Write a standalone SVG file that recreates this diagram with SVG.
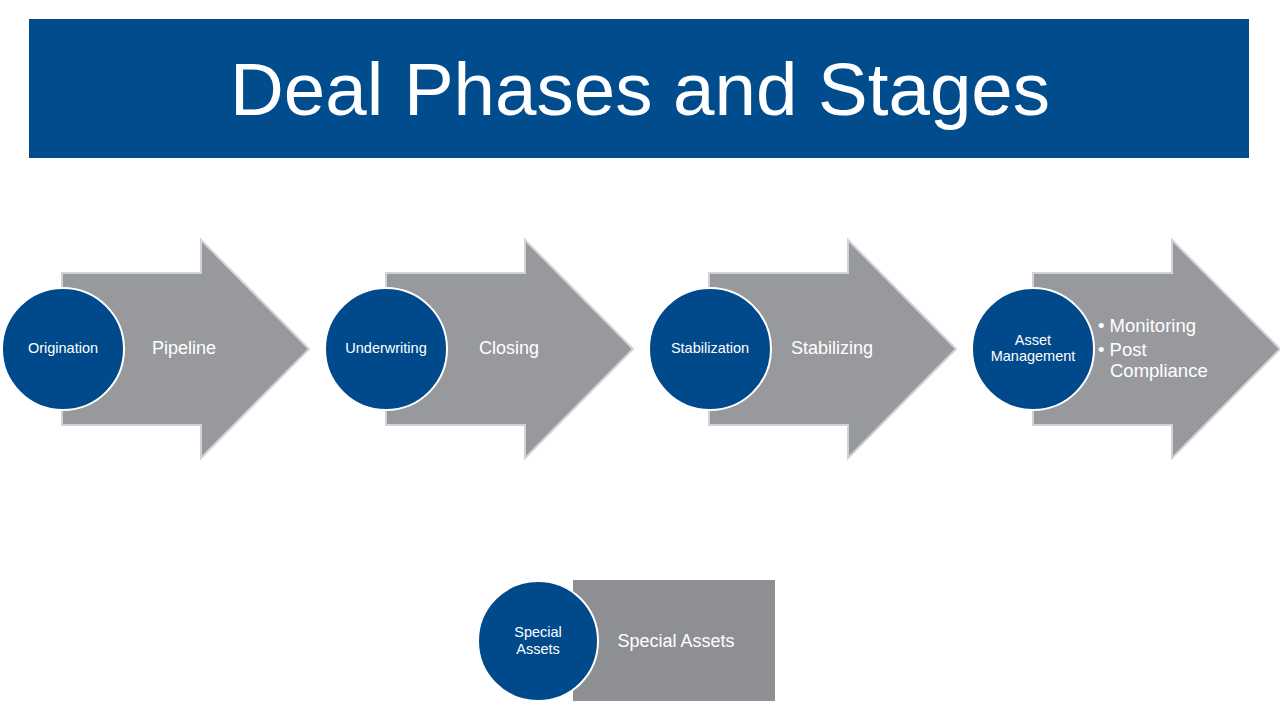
<svg xmlns="http://www.w3.org/2000/svg" width="1280" height="720" viewBox="0 0 1280 720">
<style>
.arrow{fill:#98999d;stroke:#cfd3d8;stroke-width:2}
.circ{fill:#004a8c;stroke:#ffffff;stroke-width:2}
.clabel{font-family:"Liberation Sans",Arial,sans-serif;font-size:14.5px;fill:#ffffff;text-anchor:middle}
.alabel{font-family:"Liberation Sans",Arial,sans-serif;font-size:18px;fill:#ffffff;text-anchor:middle}
.blabel{font-family:"Liberation Sans",Arial,sans-serif;font-size:18.5px;fill:#ffffff}
</style>
<rect width="1280" height="720" fill="#ffffff"/>
<g id="title">
<rect x="29" y="19" width="1220" height="139" fill="#004c8c"/>
<text x="640" y="115" font-family="'Liberation Sans',Arial,sans-serif" font-size="74.5" fill="#ffffff" text-anchor="middle">Deal Phases and Stages</text>
</g>
<g id="connectors"></g>
<g id="pipeline">
<path class="arrow" d="M62,273 H201 V240 L309,349 L201,458 V425 H62 Z"/>
<text class="alabel" x="184" y="354">Pipeline</text>
</g>
<g id="origination">
<circle class="circ" cx="63" cy="349" r="61"/>
<text class="clabel" x="63" y="353">Origination</text>
</g>
<g id="closing">
<path class="arrow" d="M386,273 H525 V240 L633,349 L525,458 V425 H386 Z"/>
<text class="alabel" x="509" y="354">Closing</text>
</g>
<g id="underwriting">
<circle class="circ" cx="386" cy="349" r="61"/>
<text class="clabel" x="386" y="353">Underwriting</text>
</g>
<g id="stabilizing">
<path class="arrow" d="M709,273 H848 V240 L956,349 L848,458 V425 H709 Z"/>
<text class="alabel" x="832" y="354">Stabilizing</text>
</g>
<g id="stabilization">
<circle class="circ" cx="710" cy="349" r="61"/>
<text class="clabel" x="710" y="353">Stabilization</text>
</g>
<g id="monitoring">
<path class="arrow" d="M1033,273 H1172 V240 L1280,349 L1172,458 V425 H1033 Z"/>
<text class="blabel" x="1098" y="332">• Monitoring</text>
<text class="blabel" x="1098" y="356">• Post</text>
<text class="blabel" x="1110" y="377">Compliance</text>
</g>
<g id="asset-management">
<circle class="circ" cx="1033" cy="349" r="61"/>
<text class="clabel" x="1033" y="345">Asset</text>
<text class="clabel" x="1033" y="361">Management</text>
</g>
<g id="special-assets-box">
<rect x="573" y="580" width="202" height="121" fill="#8e8f93"/>
<text class="alabel" x="676" y="647">Special Assets</text>
</g>
<g id="special-assets">
<circle class="circ" cx="538" cy="641" r="60"/>
<text class="clabel" x="538" y="637">Special</text>
<text class="clabel" x="538" y="654">Assets</text>
</g>
</svg>
